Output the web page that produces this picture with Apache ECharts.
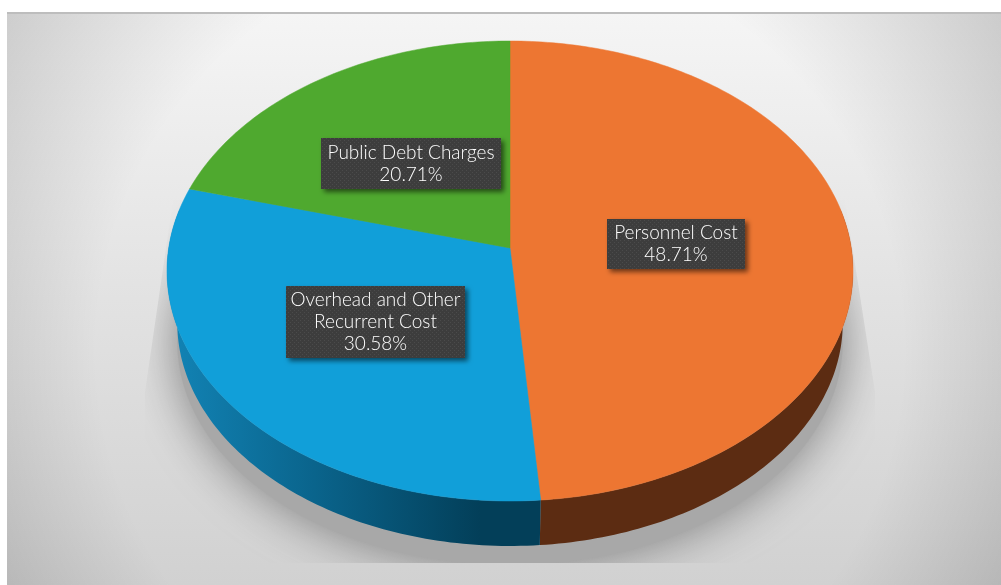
<!DOCTYPE html>
<html lang="en">
<head>
    <meta charset="UTF-8">
    <title>Recurrent expenditure</title>
    <style>
        html, body { margin: 0; padding: 0; background: #ffffff; }
        #pie { width: 1001px; height: 585px; }
    </style>
</head>
<body>
<div id="pie"></div>
<script src="https://cdn.jsdelivr.net/npm/echarts@6/dist/echarts.min.js"></script>
<script>
    var categories = ['Personnel Cost', 'Overhead and Other Recurrent Cost', 'Public Debt Charges'];
    var values = [48.71, 30.58, 20.71];
    var labelNames = ['Personnel Cost', 'Overhead and Other\nRecurrent Cost', 'Public Debt Charges'];

    var topColors = ['#ed7632', '#119fd9', '#4fa92f'];
    var wallColors = [
        '#5c2c12',
        {type: 'linear', x: 167, y: 0, x2: 535, y2: 0, global: true, colorStops: [
            {offset: 0, color: '#1284b6'},
            {offset: 0.4, color: '#0a648c'},
            {offset: 0.85, color: '#033f59'},
            {offset: 1, color: '#033f59'}
        ]},
        '#1e5c10'
    ];
    // label boxes: left, top, width, height
    var labelBoxes = [[607, 219, 138, 50], [286, 286, 179, 72], [321, 138, 180, 51]];

    /* pie seen in perspective: circle -> screen */
    var apexX = 510, apexY = 248, persp = 0.1, scaleV = 202.9, scaleU = 341.3;
    function project(deg) {
        var a = deg * Math.PI / 180;
        var u = Math.sin(a), v = -Math.cos(a);
        var w = 1 - persp * v;
        return [apexX + scaleU * u / w, (apexY + scaleV * v) / w];
    }
    /* bottom rim, lines converge slowly downward */
    var wallScale = 0.97, wallVanish = 2000;
    function drop(p) {
        return [apexX + (p[0] - apexX) * wallScale, wallVanish + (p[1] - wallVanish) * wallScale];
    }
    function arc(from, to) {
        var pts = [], n = Math.max(2, Math.ceil(Math.abs(to - from)));
        for (var i = 0; i <= n; i++) {
            pts.push(project(from + (to - from) * i / n));
        }
        return pts;
    }
    function sliceRange(i) {
        var total = values.reduce(function (a, b) { return a + b; }, 0), before = 0;
        for (var k = 0; k < i; k++) before += values[k];
        return [before / total * 360, (before + values[i]) / total * 360];
    }

    /*dot texture of the label boxes*/
    var dots = document.createElement('canvas');
    dots.width = 4;
    dots.height = 4;
    var dctx = dots.getContext('2d');
    dctx.fillStyle = '#3d3d3d';
    dctx.fillRect(0, 0, 4, 4);
    dctx.fillStyle = '#4b4b4b';
    dctx.fillRect(0, 0, 1, 1);
    dctx.fillRect(2, 2, 1, 1);

    function renderShadow() {
        var rim = arc(0, 360).map(drop).map(function (p) { return [p[0], p[1] + 19]; });
        return {
            type: 'group',
            children: [{
                type: 'polygon',
                shape: {points: rim},
                style: {fill: '#a8a8a8', shadowBlur: 50, shadowColor: 'rgba(120,120,120,0.95)'},
                clipPath: {
                    type: 'polygon',
                    shape: {points: [[173, 200], [145, 392], [145, 563], [875, 563], [875, 392], [845, 200]]}
                }
            }]
        };
    }

    function renderWall(params, api) {
        var i = api.value(0);
        var r = sliceRange(i);
        var from = Math.max(r[0], 80), to = Math.min(r[1], 280);
        if (from >= to) return null;
        var rim = arc(from, to);
        return {
            type: 'polygon',
            shape: {points: rim.concat(rim.map(drop).reverse())},
            style: {fill: wallColors[i]}
        };
    }

    function renderTop(params, api) {
        var i = api.value(0);
        var r = sliceRange(i);
        return {
            type: 'polygon',
            shape: {points: [[apexX, apexY]].concat(arc(r[0], r[1]))},
            style: {fill: topColors[i], stroke: topColors[i], lineWidth: 0.5}
        };
    }

    function renderLabel(params, api) {
        var i = api.value(0);
        var b = labelBoxes[i];
        return {
            type: 'group',
            children: [{
                type: 'rect',
                shape: {x: b[0], y: b[1], width: b[2], height: b[3]},
                style: {
                    fill: {image: dots, repeat: 'repeat'},
                    shadowBlur: 5,
                    shadowOffsetX: 3,
                    shadowOffsetY: 3,
                    shadowColor: 'rgba(0,0,0,0.55)'
                }
            }, {
                type: 'text',
                x: b[0] + b[2] / 2,
                y: b[1] + b[3] / 2,
                style: {
                    text: labelNames[i] + '\n' + values[i].toFixed(2) + '%',
                    fill: '#ffffff',
                    font: '300 19px Lato, "Open Sans", sans-serif',
                    lineHeight: 22,
                    align: 'center',
                    verticalAlign: 'middle'
                }
            }]
        };
    }

    var seriesIndexes = categories.map(function (c, i) { return [i]; });
    var chart = echarts.init(document.getElementById('pie'));
    var option = {
        animation: false,
        backgroundColor: '#ffffff',
        graphic: {
            elements: [{
                type: 'rect',
                z: 0,
                shape: {x: 7, y: 13, width: 994, height: 572},
                style: {
                    fill: {type: 'linear', x: 0, y: 13, x2: 0, y2: 585, global: true, colorStops: [
                        {offset: 0, color: '#f5f5f5'},
                        {offset: 0.5, color: '#e2e2e2'},
                        {offset: 1, color: '#d1d1d1'}
                    ]},
                    stroke: null
                }
            }, {
                type: 'rect',
                z: 0,
                shape: {x: 7, y: 13, width: 994, height: 572},
                style: {
                    fill: {type: 'radial', x: 500, y: 350, r: 620, global: true, colorStops: [
                        {offset: 0, color: 'rgba(0,0,0,0)'},
                        {offset: 0.65, color: 'rgba(0,0,0,0)'},
                        {offset: 1, color: 'rgba(0,0,0,0.18)'}
                    ]}
                }
            }, {
                type: 'rect',
                z: 0,
                shape: {x: 7, y: 12, width: 994, height: 2},
                style: {fill: '#bdbdbd'}
            }]
        },
        series: [
            {type: 'custom', coordinateSystem: 'none', z: 2, silent: true, renderItem: renderShadow, data: [[0]]},
            {type: 'custom', coordinateSystem: 'none', z: 3, silent: true, renderItem: renderWall, data: seriesIndexes},
            {type: 'custom', coordinateSystem: 'none', z: 4, silent: true, renderItem: renderTop, data: seriesIndexes},
            {type: 'custom', coordinateSystem: 'none', z: 5, silent: true, renderItem: renderLabel, data: seriesIndexes}
        ]
    };
    chart.setOption(option);
</script>
</body>
</html>
